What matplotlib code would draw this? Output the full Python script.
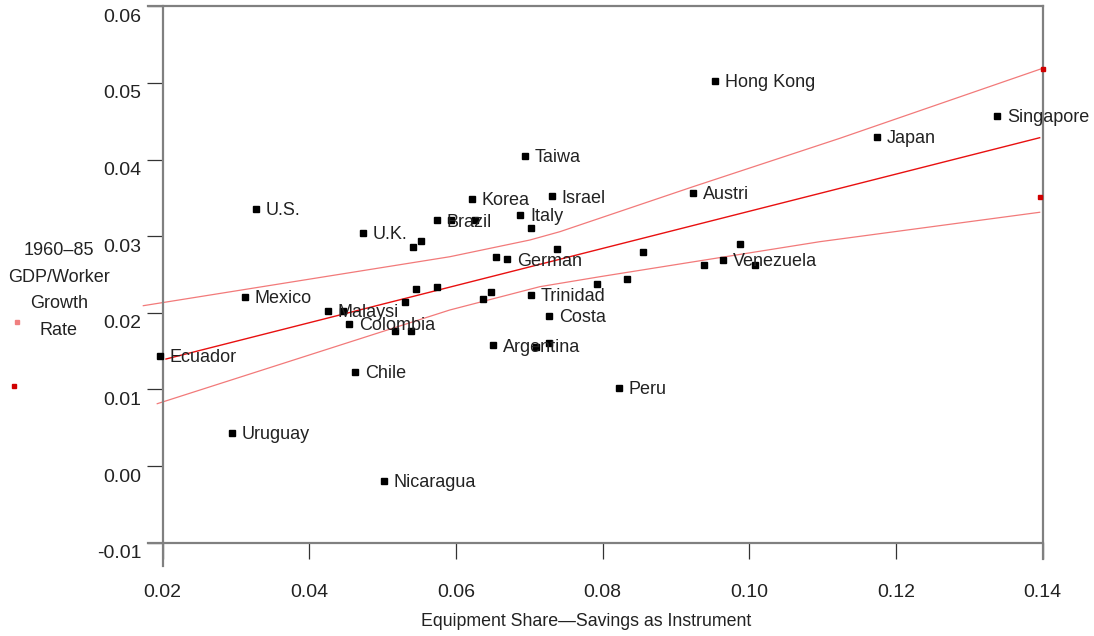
import numpy as np
import matplotlib
matplotlib.use("Agg")
import matplotlib.pyplot as plt
from matplotlib.transforms import ScaledTranslation

# country observations: equipment share vs GDP/worker growth, 1960-85
countries = ["Ecuador", "Uruguay", "Mexico", "U.S.", "Malaysi", "Colombia", "Chile",
             "U.K.", "Nicaragua", "Brazil", "Korea", "Argentina", "German", "Italy",
             "Taiwa", "Trinidad", "Costa", "Israel", "Peru", "Austri", "Hong Kong",
             "Venezuela", "Japan", "Singapore"]
equip_labeled = [0.01963, 0.02945, 0.03122, 0.03272, 0.04249, 0.04540, 0.04621,
                 0.04730, 0.05017, 0.05739, 0.06216, 0.06502, 0.06693, 0.06871,
                 0.06939, 0.07020, 0.07266, 0.07307, 0.08216, 0.09229, 0.09525,
                 0.09634, 0.11737, 0.13373]
growth_labeled = [0.01440, 0.00436, 0.02210, 0.03359, 0.02028, 0.01858, 0.01232,
                  0.03046, -0.00191, 0.03211, 0.03489, 0.01580, 0.02698, 0.03277,
                  0.04050, 0.02236, 0.01962, 0.03524, 0.01023, 0.03568, 0.05029,
                  0.02693, 0.04298, 0.04572]

# remaining countries drawn without names
equip_other = [0.04462, 0.05167, 0.05303, 0.05385, 0.05408, 0.05449, 0.05521,
               0.05735, 0.05930, 0.06261, 0.06366, 0.06471, 0.06543, 0.07020,
               0.07089, 0.07266, 0.07371, 0.07924, 0.08329, 0.08547, 0.09379,
               0.09879, 0.10074]
growth_other = [0.02028, 0.01759, 0.02137, 0.01759, 0.02863, 0.02311, 0.02941,
                0.02341, 0.03211, 0.03211, 0.02176, 0.02276, 0.02732, 0.03111,
                0.01550, 0.01610, 0.02837, 0.02380, 0.02445, 0.02798, 0.02628,
                0.02902, 0.02628]

# fitted line (IV, savings as instrument) and its confidence band
fit_x = [0.02045, 0.13959]
fit_y = [0.01397, 0.04285]
upper_x = [0.01736, 0.05916, 0.07007, 0.07418, 0.09233, 0.11233, 0.14000]
upper_y = [0.02093, 0.02732, 0.02950, 0.03059, 0.03646, 0.04277, 0.05191]
lower_x = [0.01926, 0.05916, 0.07143, 0.07961, 0.10960, 0.13959]
lower_y = [0.00814, 0.02037, 0.02341, 0.02471, 0.02928, 0.03312]
edge_x = [0.14000, 0.13960]
edge_y = [0.05178, 0.03508]

xticks = [0.02, 0.04, 0.06, 0.08, 0.10, 0.12, 0.14]
yticks = [-0.01, 0.00, 0.01, 0.02, 0.03, 0.04, 0.05, 0.06]
ylabel_lines = ["1960\u201385", "GDP/Worker", "Growth", "Rate"]

font = ["Liberation Sans", "DejaVu Sans"]
text_col = "#222222"
spine_col = "#808080"

fig = plt.figure(figsize=(10.94, 6.36), dpi=100)
ax = fig.add_axes([0.1487, 0.1467, 0.9531 - 0.1487, 0.9901 - 0.1467])
ax.set_xlim(0.02, 0.14)
ax.set_ylim(-0.01, 0.06)

ax.plot(upper_x, upper_y, color="#f27a7a", lw=0.9, clip_on=False, zorder=2)
ax.plot(lower_x, lower_y, color="#f27a7a", lw=0.9, clip_on=False, zorder=2)
ax.plot(fit_x, fit_y, color="#e81010", lw=1.0, clip_on=False, zorder=2)
ax.plot(edge_x, edge_y, ls="none", marker="s", ms=2.2, color="#d00000",
        clip_on=False, zorder=3)

ax.plot(equip_other, growth_other, ls="none", marker="s", ms=4.3,
        color="black", clip_on=False, zorder=4)
ax.plot(equip_labeled, growth_labeled, ls="none", marker="s", ms=4.3,
        color="black", clip_on=False, zorder=4)
for name, xv, yv in zip(countries, equip_labeled, growth_labeled):
    ax.annotate(name, (xv, yv), xytext=(7.2, -4.7), textcoords="offset points",
                ha="left", va="baseline", fontsize=13, family=font,
                color=text_col, zorder=5, annotation_clip=False)

# frame: grey box, with left/bottom lines running past the corner
for side in ["left", "right", "top", "bottom"]:
    ax.spines[side].set_color(spine_col)
    ax.spines[side].set_linewidth(1.6)
ax.spines["left"].set_bounds(-0.0131, 0.06)
ax.spines["right"].set_bounds(-0.0121, 0.06)
ax.spines["bottom"].set_bounds(0.0180, 0.14)
ax.spines["top"].set_bounds(0.0180, 0.14)

ax.set_xticks(xticks)
ax.set_xticklabels([f"{v:.2f}" for v in xticks])
ax.set_yticks(yticks)
ax.set_yticklabels([f"{v:.2f}" for v in yticks])
ax.tick_params(axis="both", direction="out", length=11.5, width=0.9,
               colors="#333333", labelcolor=text_col, labelsize=14)
ax.tick_params(axis="y", pad=4)
ax.tick_params(axis="x", pad=18)
for lab in ax.get_xticklabels() + ax.get_yticklabels():
    lab.set_family(font)
shift = ScaledTranslation(0, -9 / 100, fig.dpi_scale_trans)
for lab in ax.get_yticklabels():
    lab.set_transform(lab.get_transform() + shift)

fig.text(586 / 1094, 1 - 621 / 636, "Equipment Share\u2014Savings as Instrument",
         ha="center", va="center", fontsize=12.8, family=font, color=text_col)

# y title as a stack of centred lines to the left of the tick labels
for i, line in enumerate(ylabel_lines):
    fig.text(58.7 / 1094, 1 - (250.7 + 26.5 * i) / 636, line,
             ha="center", va="center", fontsize=13, family=font, color=text_col)

# small key swatches on the far left
ax.plot([17.3 / 1094], [1 - 322.3 / 636], ls="none", marker="s", ms=2.2,
        color="#f08080", transform=fig.transFigure, clip_on=False)
ax.plot([14.3 / 1094], [1 - 386 / 636], ls="none", marker="s", ms=2.2,
        color="#d00000", transform=fig.transFigure, clip_on=False)

fig.savefig("out.png", dpi=100)
